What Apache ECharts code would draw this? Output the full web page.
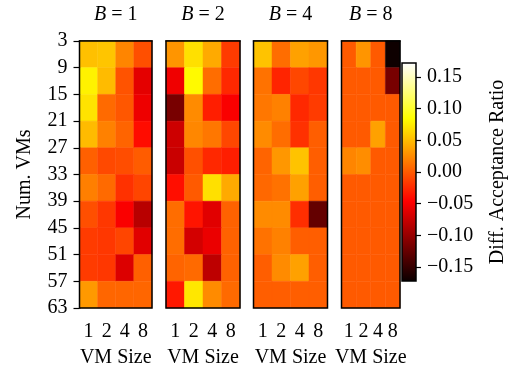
<!DOCTYPE html>
<html><head><meta charset="utf-8">
<script src="https://cdn.jsdelivr.net/npm/echarts@6/dist/echarts.min.js"></script>
<style>html,body{margin:0;padding:0;background:#fff}#c{width:516px;height:374px}</style>
</head><body><div id="c"></div>
<script>
// ---- data ----
const vmSizes = ['1', '2', '4', '8'];
const numVMsTicks = [3, 9, 15, 21, 27, 33, 39, 45, 51, 57, 63];
const panelTitles = ['1', '2', '4', '8']; // B values
// rows: Num. VMs bands 3-9, 9-15, ... 57-63 ; columns: VM size 1,2,4,8
const valuesB1 = [
  [0.052, 0.055, 0.022, -0.006],
  [0.078, 0.050, -0.004, -0.060],
  [0.070, 0.008, -0.002, -0.055],
  [0.050, 0.020, 0.005, -0.040],
  [0.003, -0.009, -0.007, 0.001],
  [0.019, 0.008, -0.021, -0.011],
  [-0.006, -0.018, -0.049, -0.083],
  [-0.016, -0.018, -0.011, -0.062],
  [-0.016, -0.018, -0.064, 0.003],
  [0.032, 0.006, 0.006, 0.006]
];
const valuesB2 = [
  [0.030, 0.069, 0.041, -0.016],
  [-0.054, 0.082, 0.010, -0.026],
  [-0.116, 0.025, -0.031, -0.049],
  [-0.072, 0.023, 0.015, -0.010],
  [-0.074, -0.005, -0.026, -0.031],
  [-0.039, 0.000, 0.069, 0.041],
  [0.010, -0.036, -0.062, 0.004],
  [0.010, -0.069, -0.057, 0.004],
  [0.005, 0.008, -0.080, 0.004],
  [-0.034, 0.072, 0.025, 0.008]
];
const valuesB4 = [
  [0.054, 0.010, 0.036, 0.031],
  [0.012, -0.028, -0.010, -0.018],
  [0.015, 0.020, -0.026, -0.016],
  [0.025, 0.010, -0.021, 0.002],
  [0.005, 0.031, 0.054, 0.002],
  [0.007, 0.012, 0.036, 0.002],
  [0.025, 0.025, -0.023, -0.126],
  [0.012, 0.020, 0.002, 0.002],
  [0.002, 0.025, 0.036, 0.002],
  [0.002, 0.002, 0.002, 0.002]
];
const valuesB8 = [
  [0.000, 0.030, 0.000, -0.170],
  [0.000, 0.000, 0.000, -0.116],
  [0.000, 0.000, 0.000, 0.000],
  [0.000, 0.000, 0.036, 0.000],
  [0.022, 0.026, 0.000, 0.000],
  [0.000, 0.000, 0.000, 0.000],
  [0.000, 0.000, 0.000, 0.000],
  [0.000, 0.000, 0.000, 0.000],
  [0.000, 0.000, 0.000, 0.000],
  [0.000, 0.000, 0.000, 0.000]
];
const colorbarTicks = [-0.15, -0.10, -0.05, 0.00, 0.05, 0.10, 0.15];
const vmin = -0.172, vmax = 0.172;

// ---- matplotlib "hot" colormap ----
function hot(t) {
  const r = t < 0.365079 ? 0.0416 + (1 - 0.0416) * t / 0.365079 : 1;
  const g = t < 0.365079 ? 0 : (t < 0.746032 ? (t - 0.365079) / (0.746032 - 0.365079) : 1);
  const b = t < 0.746032 ? 0 : (t - 0.746032) / (1 - 0.746032);
  return 'rgb(' + Math.round(r * 255) + ',' + Math.round(g * 255) + ',' + Math.round(b * 255) + ')';
}
const hotColors = [];
for (let i = 0; i <= 200; i++) hotColors.push(hot(i / 200));

const FONT = '"Liberation Serif", "Times New Roman", serif';
const FS = 20;
const allValues = [valuesB1, valuesB2, valuesB4, valuesB8];
const panels = [
  { left: 79.5, width: 72.5 },
  { left: 166, width: 74 },
  { left: 253.5, width: 74 },
  { left: 341.5, width: 58.5 }
];
const gridTop = 36, gridHeight = 272;

function renderCell(params, api) {
  const c = api.value(0), r = api.value(1);
  const p0 = api.coord([c, r]);
  const p1 = api.coord([c, r + 1]);
  const w = api.size([1, 0])[0];
  const col = api.visual('color');
  return {
    type: 'rect',
    shape: { x: p0[0] - w / 2, y: Math.min(p0[1], p1[1]), width: w, height: Math.abs(p1[1] - p0[1]) },
    style: { fill: col, stroke: col, lineWidth: 0.5 }
  };
}

const grid = [], xAxis = [], yAxis = [], series = [];
panels.forEach((p, k) => {
  grid.push({ left: p.left, width: p.width, top: gridTop, height: gridHeight, show: true, z: 10,
    backgroundColor: 'transparent', borderColor: '#000', borderWidth: 1.5 });
  xAxis.push({
    type: 'category', gridIndex: k, data: vmSizes, position: 'bottom',
    axisLine: { show: true, lineStyle: { color: '#000', width: 1.5 } },
    axisTick: { show: true, alignWithLabel: true, length: 6, lineStyle: { color: '#000', width: 1.2 } },
    axisLabel: { color: '#000', fontFamily: FONT, fontSize: FS, margin: 14 },
    splitLine: { show: false },
    name: 'VM Size', nameLocation: 'middle', nameGap: 40,
    nameTextStyle: { color: '#000', fontFamily: FONT, fontSize: FS }
  });
  yAxis.push({
    type: 'value', gridIndex: k, min: 0, max: 10, interval: 1, inverse: true,
    show: k === 0,
    axisLine: { show: true, lineStyle: { color: '#000', width: 1.5 } },
    axisTick: { show: true, length: 6, lineStyle: { color: '#000', width: 1.2 } },
    axisLabel: { color: '#000', fontFamily: FONT, fontSize: FS, margin: 12,
      formatter: v => String(numVMsTicks[Math.round(v)]) },
    splitLine: { show: false },
    name: k === 0 ? 'Num. VMs' : '', nameLocation: 'middle', nameGap: 45, nameRotate: 90,
    nameTextStyle: { color: '#000', fontFamily: FONT, fontSize: FS }
  });
  const data = [];
  allValues[k].forEach((row, r) => row.forEach((v, c) => data.push([c, r, v])));
  series.push({ type: 'custom', xAxisIndex: k, yAxisIndex: k, renderItem: renderCell, data: data, z: 2 });
});

// top axes used for panel titles
panels.forEach((p, k) => {
  xAxis.push({
    type: 'category', gridIndex: k, data: vmSizes, position: 'top',
    axisLine: { show: false }, axisTick: { show: false }, axisLabel: { show: false },
    name: '{i|B} = ' + panelTitles[k], nameLocation: 'middle', nameGap: 16,
    nameTextStyle: { color: '#000', fontFamily: FONT, fontSize: FS,
      rich: { i: { fontStyle: 'italic', fontFamily: FONT, fontSize: FS, color: '#000' } } }
  });
});

// colorbar
const cbIndex = panels.length;
grid.push({ left: 402, width: 14, top: 63, height: 218, show: true, z: 10,
  backgroundColor: 'transparent', borderColor: '#000', borderWidth: 1.5 });
xAxis.push({ type: 'category', gridIndex: cbIndex, data: [''], show: false });
yAxis.push({
  type: 'value', gridIndex: cbIndex, min: vmin, max: vmax, position: 'right',
  axisLine: { show: false },
  axisTick: { show: true, length: 5, customValues: colorbarTicks, lineStyle: { color: '#000', width: 1.2 } },
  axisLabel: { color: '#000', fontFamily: FONT, fontSize: FS, margin: 11, customValues: colorbarTicks,
    formatter: v => (v < -1e-9 ? '\u2212' : '') + Math.abs(v).toFixed(2) },
  splitLine: { show: false },
  name: 'Diff. Acceptance Ratio', nameLocation: 'middle', nameGap: 72, nameRotate: 90,
  nameTextStyle: { color: '#000', fontFamily: FONT, fontSize: FS }
});
series.push({
  type: 'custom', xAxisIndex: xAxis.length - 1, yAxisIndex: cbIndex,
  data: [[0, vmin, vmax]],
  renderItem: function (params, api) {
    const p0 = api.coord([0, api.value(1)]);
    const p1 = api.coord([0, api.value(2)]);
    const w = api.size([1, 0])[0];
    return {
      type: 'rect',
      shape: { x: p0[0] - w / 2, y: p1[1], width: w, height: p0[1] - p1[1] },
      style: { fill: new echarts.graphic.LinearGradient(0, 1, 0, 0, [
        { offset: 0, color: hot(0) }, { offset: 0.365079, color: hot(0.365079) },
        { offset: 0.746032, color: hot(0.746032) }, { offset: 1, color: hot(1) }]) }
    };
  }
});

const chart = echarts.init(document.getElementById('c'), null, { renderer: 'canvas' });
chart.setOption({
  animation: false,
  backgroundColor: '#fff',
  grid, xAxis, yAxis, series,
  visualMap: {
    type: 'continuous', show: false, min: vmin, max: vmax, dimension: 2,
    seriesIndex: [0, 1, 2, 3], inRange: { color: hotColors }
  }
});
</script></body></html>
